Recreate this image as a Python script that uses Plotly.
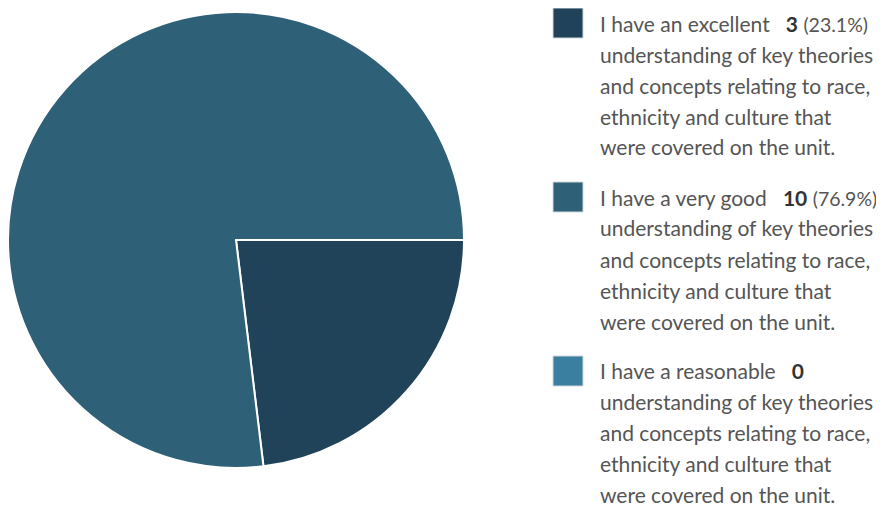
import plotly.graph_objects as go

# ---- data ----
categories = [
    "I have an excellent understanding of key theories and concepts relating to race, ethnicity and culture that were covered on the unit.",
    "I have a very good understanding of key theories and concepts relating to race, ethnicity and culture that were covered on the unit.",
    "I have a reasonable understanding of key theories and concepts relating to race, ethnicity and culture that were covered on the unit.",
]
first_lines = ["I have an excellent", "I have a very good", "I have a reasonable"]
rest_lines = [
    "understanding of key theories",
    "and concepts relating to race,",
    "ethnicity and culture that",
    "were covered on the unit.",
]
counts = [3, 10, 0]
colors = ["#20435a", "#2e6078", "#3a7fa0"]

W, H = 884, 506
OFF = 8  # page body margin offset
total = sum(counts)


def px(x):
    return (x - OFF) / W


def py(y):
    return 1 - (y - OFF) / H


fig = go.Figure()
fig.add_trace(go.Pie(
    labels=categories,
    values=counts,
    sort=False,
    direction="clockwise",
    rotation=90,
    marker=dict(colors=colors, line=dict(color="white", width=2)),
    textinfo="none",
    hoverinfo="label+value+percent",
    showlegend=False,
    domain=dict(x=[px(8), px(464)], y=[py(468), py(12)]),
))

FONT = "Lato, 'Open Sans', sans-serif"
shapes = []
annotations = []
item_top = [23, 197, 370]
square_mid = [23, 197, 371]
line_gap = 31.0
for i, cat in enumerate(categories):
    yc = item_top[i]
    ys = square_mid[i]
    shapes.append(dict(
        type="rect", xref="paper", yref="paper",
        x0=px(553), x1=px(583), y0=py(ys - 15), y1=py(ys + 15),
        fillcolor=colors[i], line=dict(color="#d0d8dc", width=1),
    ))
    n = counts[i]
    num_txt = f"<span style='color:#333333'><b>{n}</b></span>"
    if n > 0:
        num_txt += f" <span style='font-size:19.5px'>({n / total * 100:.1f}%)</span>"
    first = f"{first_lines[i]}&nbsp;&nbsp;&nbsp;{num_txt}"
    lines = [first] + rest_lines
    for k, ln in enumerate(lines):
        annotations.append(dict(
            xref="paper", yref="paper", x=px(598), y=py(yc + k * line_gap),
            xanchor="left", yanchor="middle", showarrow=False, text=ln,
            font=dict(family=FONT, size=21, color="#555555"),
        ))

fig.update_layout(
    width=W, height=H,
    margin=dict(l=0, r=0, t=0, b=0),
    paper_bgcolor="white", plot_bgcolor="white",
    shapes=shapes, annotations=annotations,
)
fig.write_html("out.html")
